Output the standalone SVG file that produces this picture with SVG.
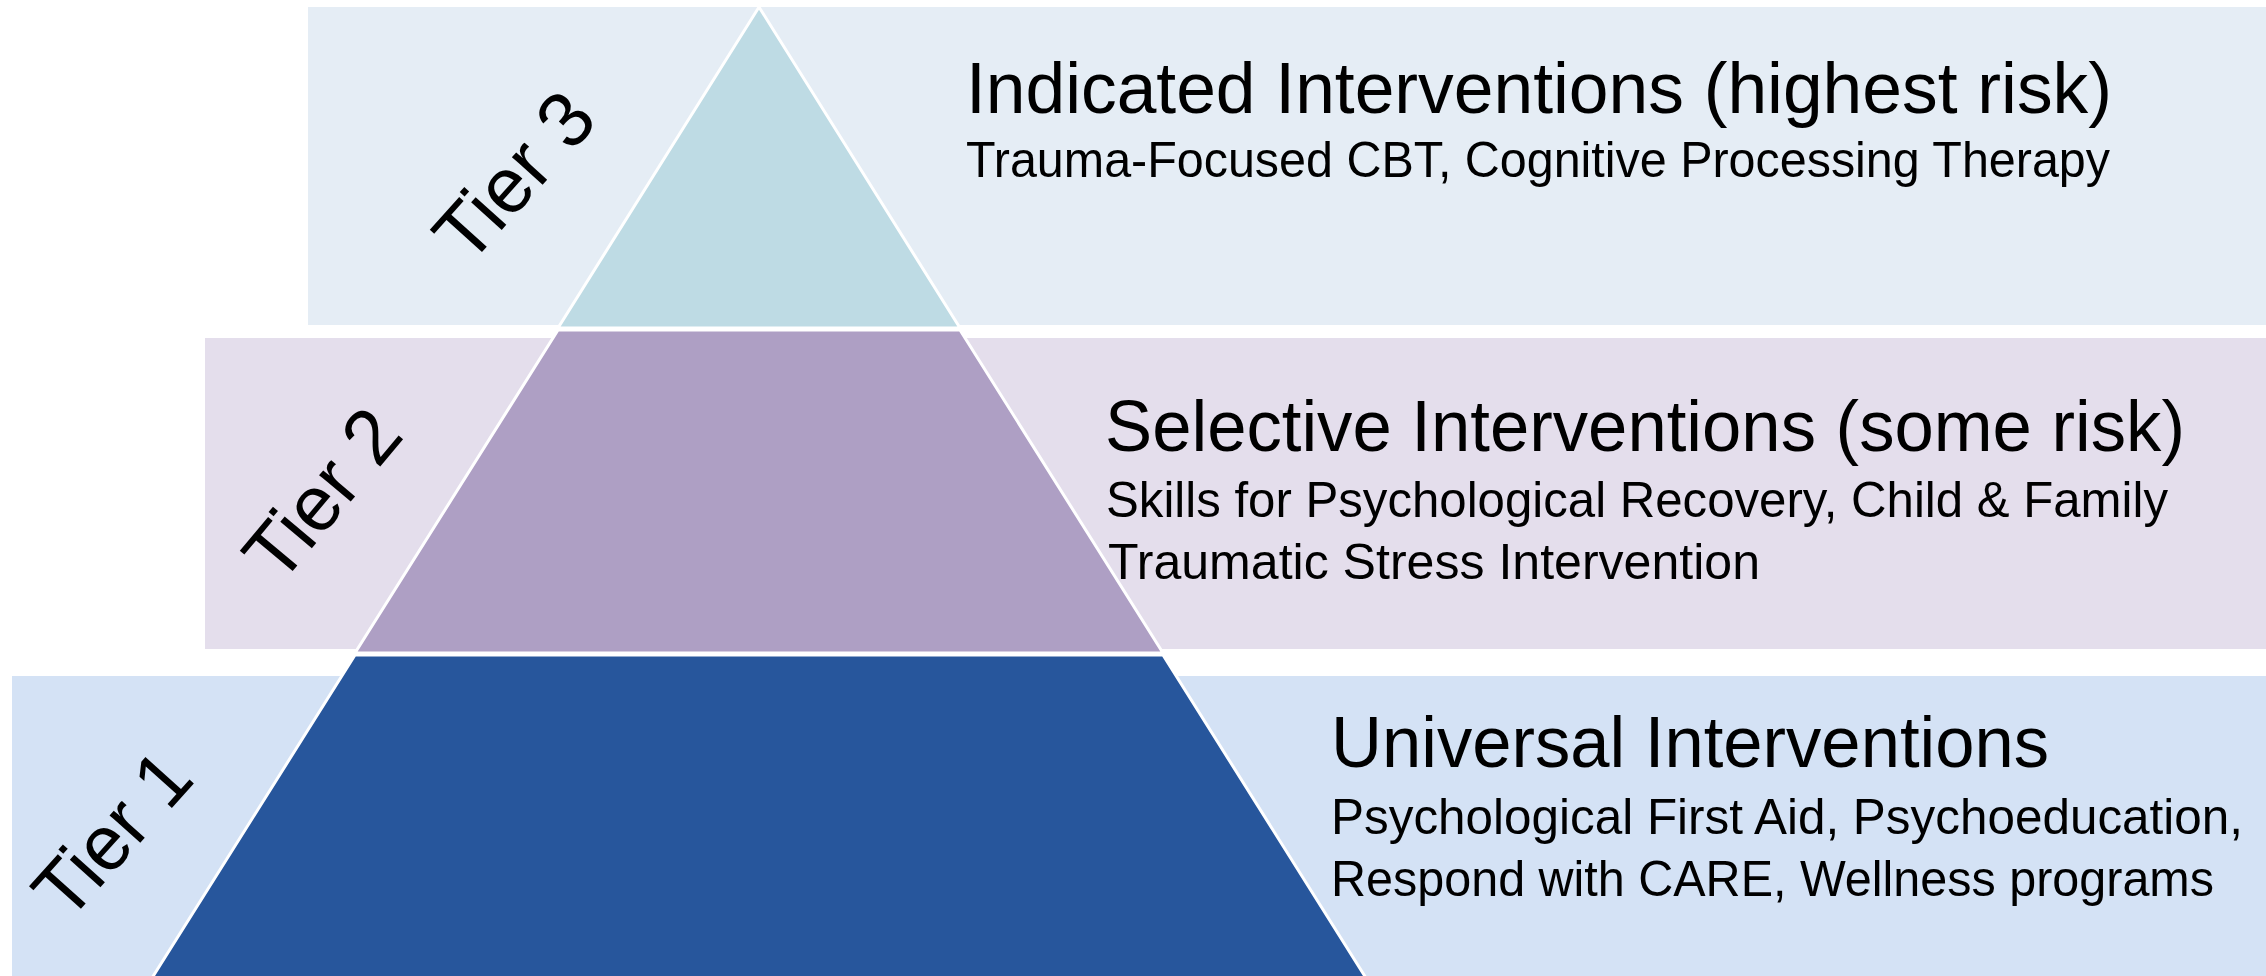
<svg xmlns="http://www.w3.org/2000/svg" width="2266" height="976" viewBox="0 0 2266 976">
<style>
.title{font-family:"Liberation Sans",Arial,sans-serif;font-size:73px;fill:#000}
.sub{font-family:"Liberation Sans",Arial,sans-serif;font-size:50px;fill:#000}
.tier{font-family:"Liberation Sans",Arial,sans-serif;font-size:78px;fill:#000}
.seg{stroke:#ffffff;stroke-width:3}
</style>
<rect width="2266" height="976" fill="#ffffff"/>
<g id="tier3">
<rect x="308" y="7" width="1958" height="318" fill="#E5EDF5"/>
<polygon class="seg" points="759,7 960,328 558,328" fill="#BEDBE4"/>
<text class="tier" transform="translate(514,176) rotate(-48)" text-anchor="middle" dominant-baseline="central" textLength="196" lengthAdjust="spacingAndGlyphs">Tier 3</text>
<text class="title" x="966" y="113" textLength="1146" lengthAdjust="spacingAndGlyphs">Indicated Interventions (highest risk)</text>
<text class="sub" x="966" y="177" textLength="1144" lengthAdjust="spacingAndGlyphs">Trauma-Focused CBT, Cognitive Processing Therapy</text>
</g>
<g id="tier2">
<rect x="205" y="338" width="2061" height="311" fill="#E4DEEC"/>
<polygon class="seg" points="558,330 960,330 1163,653 355,653" fill="#AE9FC4"/>
<text class="tier" transform="translate(322,494) rotate(-50)" text-anchor="middle" dominant-baseline="central" textLength="196" lengthAdjust="spacingAndGlyphs">Tier 2</text>
<text class="title" x="1105" y="451" textLength="1080" lengthAdjust="spacingAndGlyphs">Selective Interventions (some risk)</text>
<text class="sub" x="1106" y="517" textLength="1062" lengthAdjust="spacingAndGlyphs">Skills for Psychological Recovery, Child &amp; Family</text>
<text class="sub" x="1108" y="579" textLength="652" lengthAdjust="spacingAndGlyphs">Traumatic Stress Intervention</text>
</g>
<g id="tier1">
<rect x="12" y="676" width="2254" height="300" fill="#D4E2F5"/>
<polygon class="seg" points="355,655 1163,655 1366,978 152,978" fill="#27569C"/>
<text class="tier" transform="translate(112,834) rotate(-48)" text-anchor="middle" dominant-baseline="central" textLength="192" lengthAdjust="spacingAndGlyphs">Tier 1</text>
<text class="title" x="1331" y="767" textLength="718" lengthAdjust="spacingAndGlyphs">Universal Interventions</text>
<text class="sub" x="1331" y="834" textLength="912" lengthAdjust="spacingAndGlyphs">Psychological First Aid, Psychoeducation,</text>
<text class="sub" x="1331" y="896" textLength="883" lengthAdjust="spacingAndGlyphs">Respond with CARE, Wellness programs</text>
</g>
<g id="connectors"></g>
</svg>
